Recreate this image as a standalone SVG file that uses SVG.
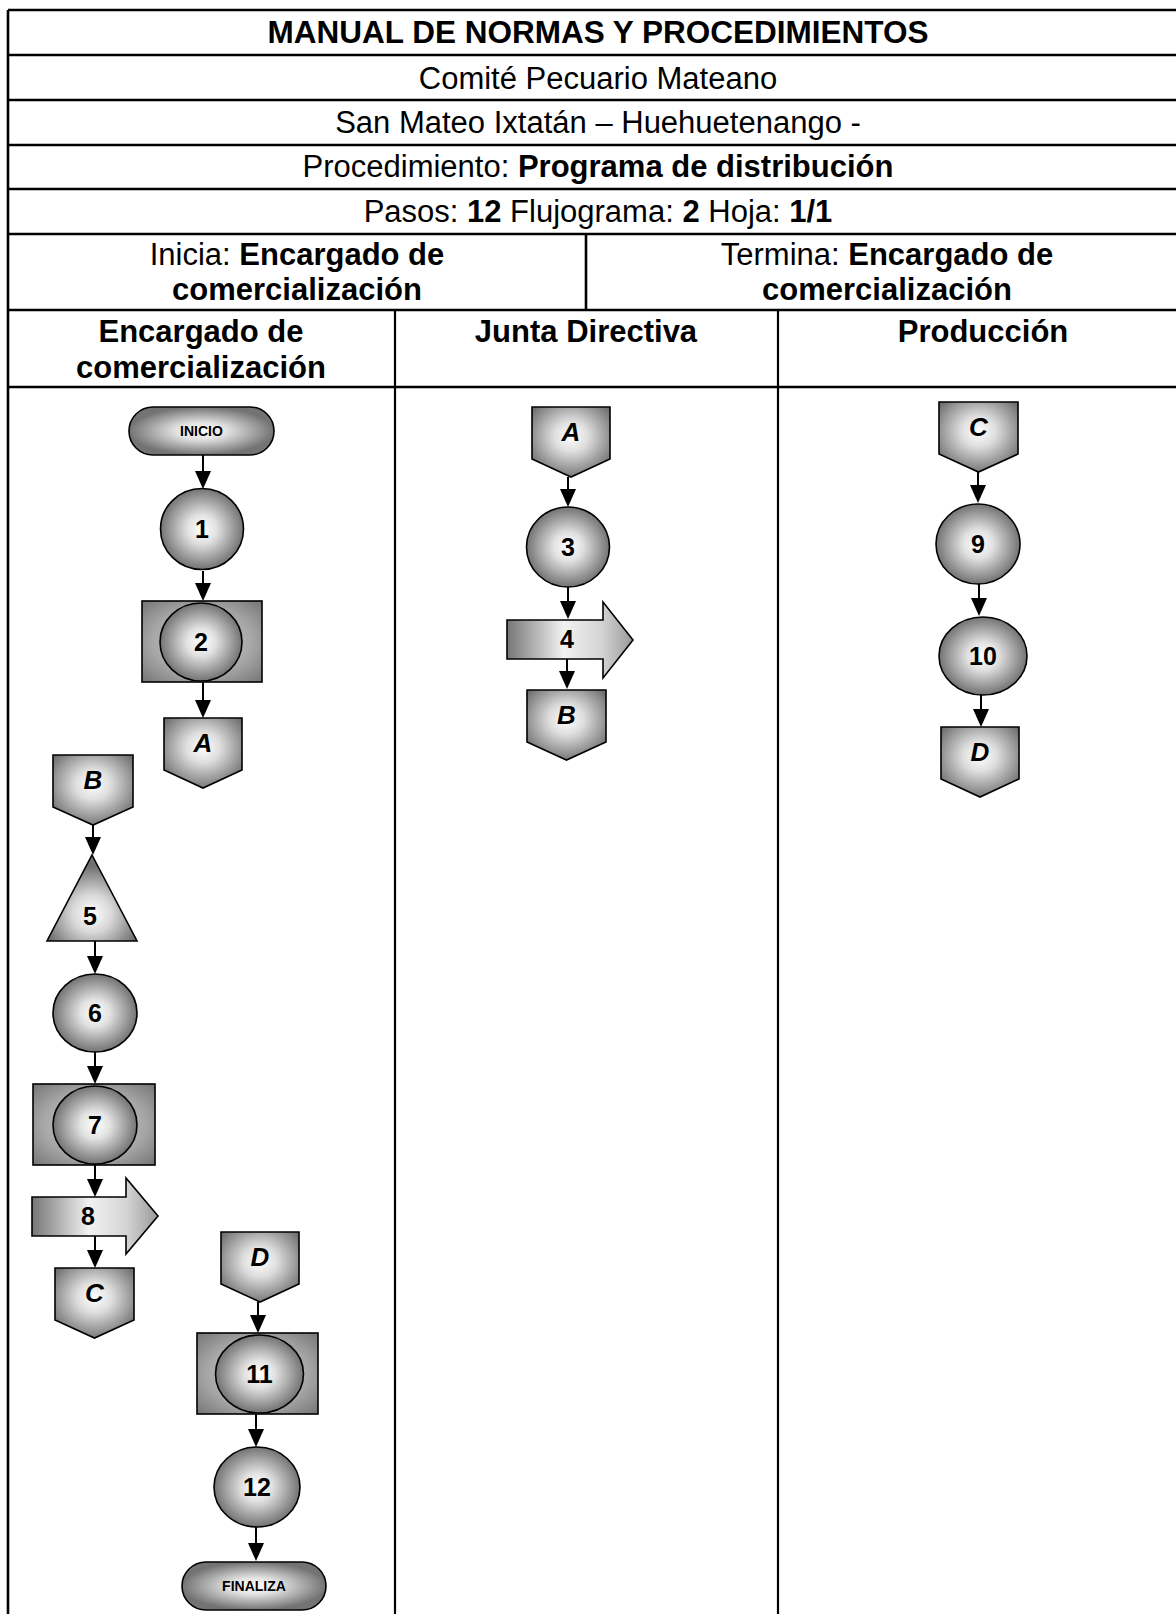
<svg xmlns="http://www.w3.org/2000/svg" width="1176" height="1614" viewBox="0 0 1176 1614">
  <defs>
    <style>
      .grid { stroke: #000; stroke-width: 2.6; fill: none; }
      .lane { stroke: #000; stroke-width: 2.2; fill: none; }
      .t { font-family: "Liberation Sans", Arial, sans-serif; font-size: 31px; text-anchor: middle; fill: #000; }
      .b { font-weight: bold; }
      .num { font-family: "Liberation Sans", Arial, sans-serif; font-size: 25px; font-weight: bold; text-anchor: middle; fill: #000; }
      .ltr { font-family: "Liberation Sans", Arial, sans-serif; font-size: 26px; font-weight: bold; font-style: italic; text-anchor: middle; fill: #000; }
      .term { font-family: "Liberation Sans", Arial, sans-serif; font-size: 14px; font-weight: bold; text-anchor: middle; fill: #000; }
      .ball { fill: url(#gBall); stroke: #000; stroke-width: 1.6; }
      .conn { fill: url(#gConn); stroke: #000; stroke-width: 1.6; }
      .frame { fill: url(#gFrame); stroke: #000; stroke-width: 1.6; }
      .tri { fill: url(#gTri); stroke: #000; stroke-width: 1.6; }
      .fat { fill: url(#gFat); stroke: #000; stroke-width: 1.6; }
      .edge { stroke: #000; stroke-width: 2; fill: none; marker-end: url(#head); }
    </style>
    <radialGradient id="gBall" cx="0.5" cy="0.5" r="0.5">
      <stop offset="0" stop-color="#ffffff"/>
      <stop offset="0.35" stop-color="#e2e2e2"/>
      <stop offset="1" stop-color="#737373"/>
    </radialGradient>
    <radialGradient id="gConn" cx="0.5" cy="0.42" r="0.62">
      <stop offset="0" stop-color="#ffffff"/>
      <stop offset="0.35" stop-color="#dedede"/>
      <stop offset="1" stop-color="#6e6e6e"/>
    </radialGradient>
    <radialGradient id="gFrame" cx="0.5" cy="0.5" r="0.7">
      <stop offset="0" stop-color="#d0d0d0"/>
      <stop offset="0.6" stop-color="#a6a6a6"/>
      <stop offset="1" stop-color="#767676"/>
    </radialGradient>
    <radialGradient id="gTri" cx="0.5" cy="0.68" r="0.55">
      <stop offset="0" stop-color="#ffffff"/>
      <stop offset="0.4" stop-color="#d8d8d8"/>
      <stop offset="1" stop-color="#707070"/>
    </radialGradient>
    <linearGradient id="gFat" x1="0" y1="0" x2="1" y2="0">
      <stop offset="0" stop-color="#767676"/>
      <stop offset="0.45" stop-color="#f2f2f2"/>
      <stop offset="0.75" stop-color="#d4d4d4"/>
      <stop offset="1" stop-color="#9a9a9a"/>
    </linearGradient>
    <marker id="head" markerUnits="userSpaceOnUse" markerWidth="20" markerHeight="18" refX="8" refY="8" orient="auto">
      <path d="M0,0 L18,8 L0,16 Z" fill="#000"/>
    </marker>
  </defs>

  <rect width="1176" height="1614" fill="#fff"/>

  <!-- form header -->
  <g id="header">
    <line class="grid" x1="8" y1="10" x2="1190" y2="10"/>
    <line class="grid" x1="8" y1="55" x2="1190" y2="55"/>
    <line class="grid" x1="8" y1="100" x2="1190" y2="100"/>
    <line class="grid" x1="8" y1="145" x2="1190" y2="145"/>
    <line class="grid" x1="8" y1="189" x2="1190" y2="189"/>
    <line class="grid" x1="8" y1="234" x2="1190" y2="234"/>
    <line class="grid" x1="8" y1="310" x2="1190" y2="310"/>
    <line class="grid" x1="8" y1="387" x2="1190" y2="387"/>
    <line class="grid" x1="586" y1="234" x2="586" y2="310"/>
    <line class="grid" x1="8" y1="10" x2="8" y2="1614"/>

    <text class="t b" x="598" y="43" style="font-size:31.5px">MANUAL DE NORMAS Y PROCEDIMIENTOS</text>
    <text class="t" x="598" y="89">Comité Pecuario Mateano</text>
    <text class="t" x="598" y="133">San Mateo Ixtatán – Huehuetenango -</text>
    <text class="t" x="598" y="177">Procedimiento: <tspan class="b">Programa de distribución</tspan></text>
    <text class="t" x="598" y="222">Pasos: <tspan class="b">12</tspan> Flujograma: <tspan class="b">2</tspan> Hoja: <tspan class="b">1/1</tspan></text>
    <text class="t" x="297" y="265">Inicia: <tspan class="b">Encargado de</tspan><tspan class="b" x="297" dy="35">comercialización</tspan></text>
    <text class="t" x="887" y="265">Termina: <tspan class="b">Encargado de</tspan><tspan class="b" x="887" dy="35">comercialización</tspan></text>
  </g>

  <!-- swimlanes -->
  <g id="lanes">
    <line class="lane" x1="395" y1="310" x2="395" y2="1614"/>
    <line class="lane" x1="778" y1="310" x2="778" y2="1614"/>
    <text class="t b" x="201" y="342">Encargado de<tspan x="201" dy="36">comercialización</tspan></text>
    <text class="t b" x="586" y="342">Junta Directiva</text>
    <text class="t b" x="983" y="342">Producción</text>
  </g>

  <!-- connectors -->
  <g id="connectors">
    <path class="edge" d="M203,455 V479"/>
    <path class="edge" d="M203,571 V591"/>
    <path class="edge" d="M203,682 V708"/>
    <path class="edge" d="M568,477 V497"/>
    <path class="edge" d="M568,587 V609"/>
    <path class="edge" d="M567,651 V679"/>
    <path class="edge" d="M978,472 V493"/>
    <path class="edge" d="M979,584 V606"/>
    <path class="edge" d="M981,695 V717"/>
    <path class="edge" d="M93,825 V845"/>
    <path class="edge" d="M95,941 V964"/>
    <path class="edge" d="M95,1052 V1074"/>
    <path class="edge" d="M95,1165 V1187"/>
    <path class="edge" d="M95,1229 V1258"/>
    <path class="edge" d="M258,1302 V1323"/>
    <path class="edge" d="M256,1414 V1437"/>
    <path class="edge" d="M256,1527 V1551"/>
  </g>

  <!-- Encargado de comercializacion -->
  <g id="inicio">
    <rect class="ball" x="129" y="407" width="145" height="48" rx="24" ry="24"/>
    <text class="term" x="201.5" y="436">INICIO</text>
  </g>
  <g id="step1">
    <ellipse class="ball" cx="202" cy="529" rx="41.5" ry="40.5"/>
    <text class="num" x="202" y="538">1</text>
  </g>
  <g id="step2">
    <rect class="frame" x="142" y="601" width="120" height="81"/>
    <ellipse class="ball" cx="201" cy="642" rx="41" ry="39"/>
    <text class="num" x="201" y="651">2</text>
  </g>
  <g id="offA-out">
    <polygon class="conn" points="164,718 242,718 242,770 203,788 164,770"/>
    <text class="ltr" x="203" y="752">A</text>
  </g>
  <g id="offB-in">
    <polygon class="conn" points="53,755 133,755 133,807 93,825 53,807"/>
    <text class="ltr" x="93" y="789">B</text>
  </g>
  <g id="step5">
    <polygon class="tri" points="92,855 137,941 47,941"/>
    <text class="num" x="90" y="925">5</text>
  </g>
  <g id="step6">
    <ellipse class="ball" cx="95" cy="1013" rx="42" ry="39"/>
    <text class="num" x="95" y="1022">6</text>
  </g>
  <g id="step7">
    <rect class="frame" x="33" y="1084" width="122" height="81"/>
    <ellipse class="ball" cx="95" cy="1125" rx="42" ry="39"/>
    <text class="num" x="95" y="1134">7</text>
  </g>
  <g id="step8">
    <path class="fat" d="M32,1197 H126 V1178 L158,1216 L126,1254 V1236 H32 Z"/>
    <text class="num" x="88" y="1225">8</text>
  </g>
  <g id="offC-out">
    <polygon class="conn" points="55,1268 134,1268 134,1320 94.5,1338 55,1320"/>
    <text class="ltr" x="94.5" y="1302">C</text>
  </g>
  <g id="offD-in">
    <polygon class="conn" points="221,1232 299,1232 299,1284 260,1302 221,1284"/>
    <text class="ltr" x="260" y="1266">D</text>
  </g>
  <g id="step11">
    <rect class="frame" x="197" y="1333" width="121" height="81"/>
    <ellipse class="ball" cx="259.5" cy="1374" rx="44" ry="39"/>
    <text class="num" x="259.5" y="1383">11</text>
  </g>
  <g id="step12">
    <ellipse class="ball" cx="257" cy="1487" rx="43" ry="40"/>
    <text class="num" x="257" y="1496">12</text>
  </g>
  <g id="finaliza">
    <rect class="ball" x="182" y="1562" width="144" height="48" rx="24" ry="24"/>
    <text class="term" x="254" y="1591">FINALIZA</text>
  </g>

  <!-- Junta Directiva -->
  <g id="offA-in">
    <polygon class="conn" points="532,407 610,407 610,459 571,477 532,459"/>
    <text class="ltr" x="571" y="441">A</text>
  </g>
  <g id="step3">
    <ellipse class="ball" cx="568" cy="547" rx="41.5" ry="40"/>
    <text class="num" x="568" y="556">3</text>
  </g>
  <g id="step4">
    <path class="fat" d="M507,620 H603 V602 L633,640 L603,678 V659 H507 Z"/>
    <text class="num" x="567" y="648">4</text>
  </g>
  <g id="offB-out">
    <polygon class="conn" points="527,690 606,690 606,742 566.5,760 527,742"/>
    <text class="ltr" x="566.5" y="724">B</text>
  </g>

  <!-- Produccion -->
  <g id="offC-in">
    <polygon class="conn" points="939,402 1018,402 1018,454 978.5,472 939,454"/>
    <text class="ltr" x="978.5" y="436">C</text>
  </g>
  <g id="step9">
    <ellipse class="ball" cx="978" cy="544" rx="42" ry="40"/>
    <text class="num" x="978" y="553">9</text>
  </g>
  <g id="step10">
    <ellipse class="ball" cx="983" cy="656" rx="44" ry="39"/>
    <text class="num" x="983" y="665">10</text>
  </g>
  <g id="offD-out">
    <polygon class="conn" points="941,727 1019,727 1019,779 980,797 941,779"/>
    <text class="ltr" x="980" y="761">D</text>
  </g>
</svg>
